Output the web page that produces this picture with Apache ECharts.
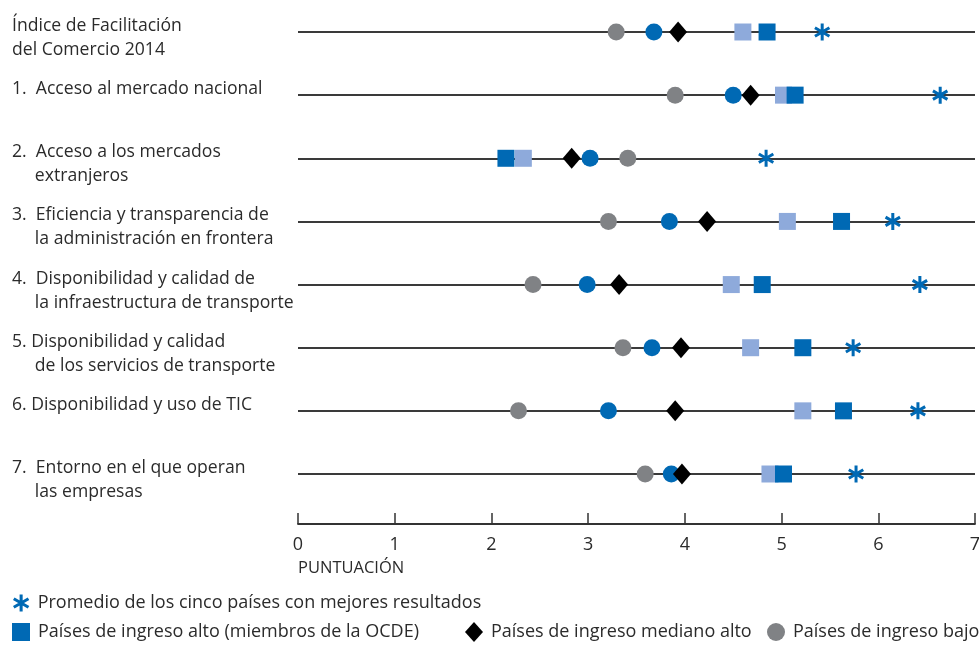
<!DOCTYPE html>
<html>
<head>
<meta charset="utf-8">
<script src="https://cdn.jsdelivr.net/npm/echarts@6/dist/echarts.min.js"></script>
<style>html,body{margin:0;padding:0;background:#fff}#c{width:979px;height:645px}</style>
</head>
<body>
<div id="c"></div>
<script>
const categories = [
  "Índice de Facilitación\ndel Comercio 2014",
  "1.  Acceso al mercado nacional\n\u00a0",
  "2.  Acceso a los mercados\n\u00a0\u00a0\u00a0\u00a0\u00a0extranjeros",
  "3.  Eficiencia y transparencia de\n\u00a0\u00a0\u00a0\u00a0\u00a0la administración en frontera",
  "4.  Disponibilidad y calidad de\n\u00a0\u00a0\u00a0\u00a0\u00a0la infraestructura de transporte",
  "5. Disponibilidad y calidad\n\u00a0\u00a0\u00a0\u00a0\u00a0de los servicios de transporte",
  "6. Disponibilidad y uso de TIC\n\u00a0",
  "7.  Entorno en el que operan\n\u00a0\u00a0\u00a0\u00a0\u00a0las empresas"
];
const xTicks = [0, 1, 2, 3, 4, 5, 6, 7];
const seriesNames = [
  "Países de ingreso alto (no miembros de la OCDE)",
  "Países de ingreso alto (miembros de la OCDE)",
  "Países de ingreso bajo",
  "Países de ingreso mediano bajo",
  "Países de ingreso mediano alto",
  "Promedio de los cinco países con mejores resultados"
];
const highNonOECD = [4.60, 5.02, 2.33, 5.06, 4.48, 4.68, 5.22, 4.88];
const highOECD    = [4.85, 5.14, 2.15, 5.62, 4.80, 5.22, 5.64, 5.02];
const lowIncome   = [3.29, 3.90, 3.41, 3.21, 2.43, 3.36, 2.28, 3.59];
const lowerMiddle = [3.68, 4.50, 3.02, 3.84, 2.99, 3.66, 3.21, 3.86];
const upperMiddle = [3.93, 4.68, 2.83, 4.23, 3.32, 3.96, 3.90, 3.97];
const top5        = [5.42, 6.64, 4.84, 6.15, 6.43, 5.74, 6.41, 5.77];

const ASTERISK = 'path://M-18,-100 L18,-100 L18,100 L-18,100 Z M77.6,-65.6 L95.6,-34.4 L-77.6,65.6 L-95.6,34.4 Z M95.6,34.4 L77.6,65.6 L-95.6,-34.4 L-77.6,-65.6 Z';
const FONT = '"Open Sans", "Noto Sans", sans-serif';
const TXT = '#2b2b2b';

function pts(arr) { return arr.map((v, i) => [v, categories[i]]); }

const chart = echarts.init(document.getElementById('c'), null, { renderer: 'canvas' });
const legendText = { color: TXT, fontFamily: FONT, fontSize: 18, padding: [0, 0, 0, 3] };
chart.setOption({
  animation: false,
  textStyle: { fontFamily: FONT },
  title: {
    text: 'PUNTUACIÓN', left: 298, top: 560, padding: 0,
    textStyle: { fontFamily: FONT, fontSize: 16.5, fontWeight: 'normal', color: TXT }
  },
  grid: { left: 298, width: 677, top: 32, bottom: 171, containLabel: false, outerBoundsMode: 'none' },
  xAxis: {
    type: 'value', min: 0, max: 7, interval: 1, offset: 50,
    axisLine: { show: true, lineStyle: { color: '#333', width: 1.8 } },
    axisTick: { show: true, inside: true, length: 11, lineStyle: { color: '#333', width: 1.5 } },
    axisLabel: { color: TXT, fontSize: 18, fontFamily: FONT, margin: 12,
      formatter: v => xTicks.includes(v) ? String(v) : '' },
    splitLine: { show: false }
  },
  yAxis: {
    type: 'category', data: categories, inverse: true, boundaryGap: false,
    axisLine: { show: false }, axisTick: { show: false },
    splitLine: { show: true, lineStyle: { color: '#3a3a3a', width: 2 } },
    axisLabel: {
      interval: 0, showMinLabel: true, showMaxLabel: true, hideOverlap: false,
      color: TXT, fontSize: 17.6, fontFamily: FONT, lineHeight: 24,
      align: 'left', margin: 286, verticalAlign: 'middle',
      formatter: v => '{g|\u00a0}\n' + v,
      rich: { g: { fontSize: 1, lineHeight: 12 } }
    }
  },
  legend: [
    { data: [seriesNames[5]], left: 13, top: 594, itemWidth: 17, itemHeight: 17, textStyle: legendText, padding: 0 },
    { data: [seriesNames[1]], left: 12, top: 623, itemWidth: 18, itemHeight: 18, textStyle: legendText, padding: 0 },
    { data: [seriesNames[4]], left: 465, top: 622, itemWidth: 18, itemHeight: 20, textStyle: legendText, padding: 0 },
    { data: [seriesNames[2]], left: 767, top: 623, itemWidth: 18, itemHeight: 18, textStyle: legendText, padding: 0 }
  ],
  series: [
    { name: seriesNames[0], type: 'scatter', data: pts(highNonOECD), symbol: 'rect', symbolSize: 17, itemStyle: { color: '#8eaadb', opacity: 1 }, z: 2 },
    { name: seriesNames[1], type: 'scatter', data: pts(highOECD), symbol: 'rect', symbolSize: 17, itemStyle: { color: '#0069b4', opacity: 1 }, z: 3 },
    { name: seriesNames[2], type: 'scatter', data: pts(lowIncome), symbol: 'circle', symbolSize: 17, itemStyle: { color: '#808285', opacity: 1 }, z: 4 },
    { name: seriesNames[3], type: 'scatter', data: pts(lowerMiddle), symbol: 'circle', symbolSize: 17, itemStyle: { color: '#0069b4', opacity: 1 }, z: 5 },
    { name: seriesNames[4], type: 'scatter', data: pts(upperMiddle), symbol: 'diamond', symbolSize: [18, 21], itemStyle: { color: '#000', opacity: 1 }, z: 6 },
    { name: seriesNames[5], type: 'scatter', data: pts(top5), symbol: ASTERISK, symbolSize: [16, 17], itemStyle: { color: '#0069b4', opacity: 1 }, z: 7 }
  ]
});
</script>
</body>
</html>
